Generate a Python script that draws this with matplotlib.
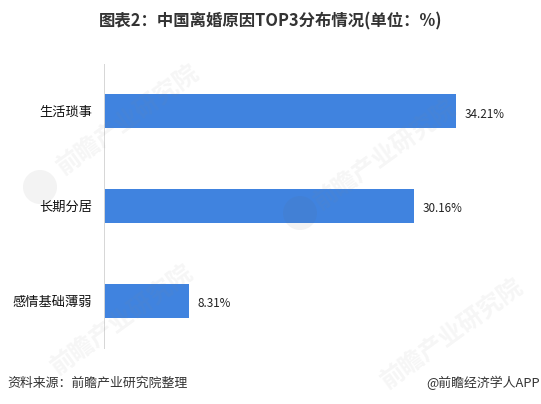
# horizontal bar chart with watermark
import matplotlib
matplotlib.use("Agg")
import matplotlib.pyplot as plt
from matplotlib.patches import Circle

plt.rcParams['font.family'] = ['Noto Sans CJK SC', 'DejaVu Sans']

categories = ["生活琐事", "长期分居", "感情基础薄弱"]
values = [34.21, 30.16, 8.31]
value_labels = ["34.21%", "30.16%", "8.31%"]

W, H = 541, 404
fig = plt.figure(figsize=(W/100, H/100), dpi=100)

# axes box in pixels: left 103.5, right 540, top 64, bottom 348
ax = fig.add_axes([103.5/W, 1-348/H, (540-103.5)/W, (348-64)/H])
ax.barh(range(3), values, height=0.36, color="#4083DF")
ax.set_xlim(0, 436.5/10.3)
ax.set_ylim(2.5, -0.5)
ax.set_yticks(range(3))
ax.set_yticklabels(categories, fontsize=9.5, color="#111111")
ax.tick_params(axis='y', length=0, pad=8)
ax.set_xticks([])
for s in ['top', 'right', 'bottom']:
    ax.spines[s].set_visible(False)
ax.spines['left'].set_color("#D6D6D6")
ax.spines['left'].set_linewidth(0.7)

for i in range(3):
    ax.text(values[i]+0.85, i+0.03, value_labels[i], fontsize=8.4, va='center', color="#222222")

fig.text(271/W, 1-21/H, "图表2：中国离婚原因TOP3分布情况(单位：%)", fontsize=11.8, fontweight='bold',
         ha='center', va='center', color="#333333")
fig.text(7/W, 1-383/H, "资料来源：前瞻产业研究院整理", fontsize=9.3, va='center', color="#333333")
fig.text(540/W, 1-383/H, "@前瞻经济学人APP", fontsize=9.3, ha='right', va='center', color="#333333")

# watermarks
marks = [(128, 120), (385, 155), (122, 320), (452, 334)]
for x, y in marks:
    fig.text(x/W, 1-y/H, "前瞻产业研究院", fontsize=17.5, rotation=36, ha='center', va='center',
             color="#888888", alpha=0.08, fontweight='bold', zorder=5)
for x, y in [(40, 187), (300, 213)]:
    fig.add_artist(Circle((x, H-y), 17, transform=None, facecolor="#666666", edgecolor='none',
                          linewidth=0, alpha=0.08, zorder=5))

fig.savefig("out.png", dpi=100)
